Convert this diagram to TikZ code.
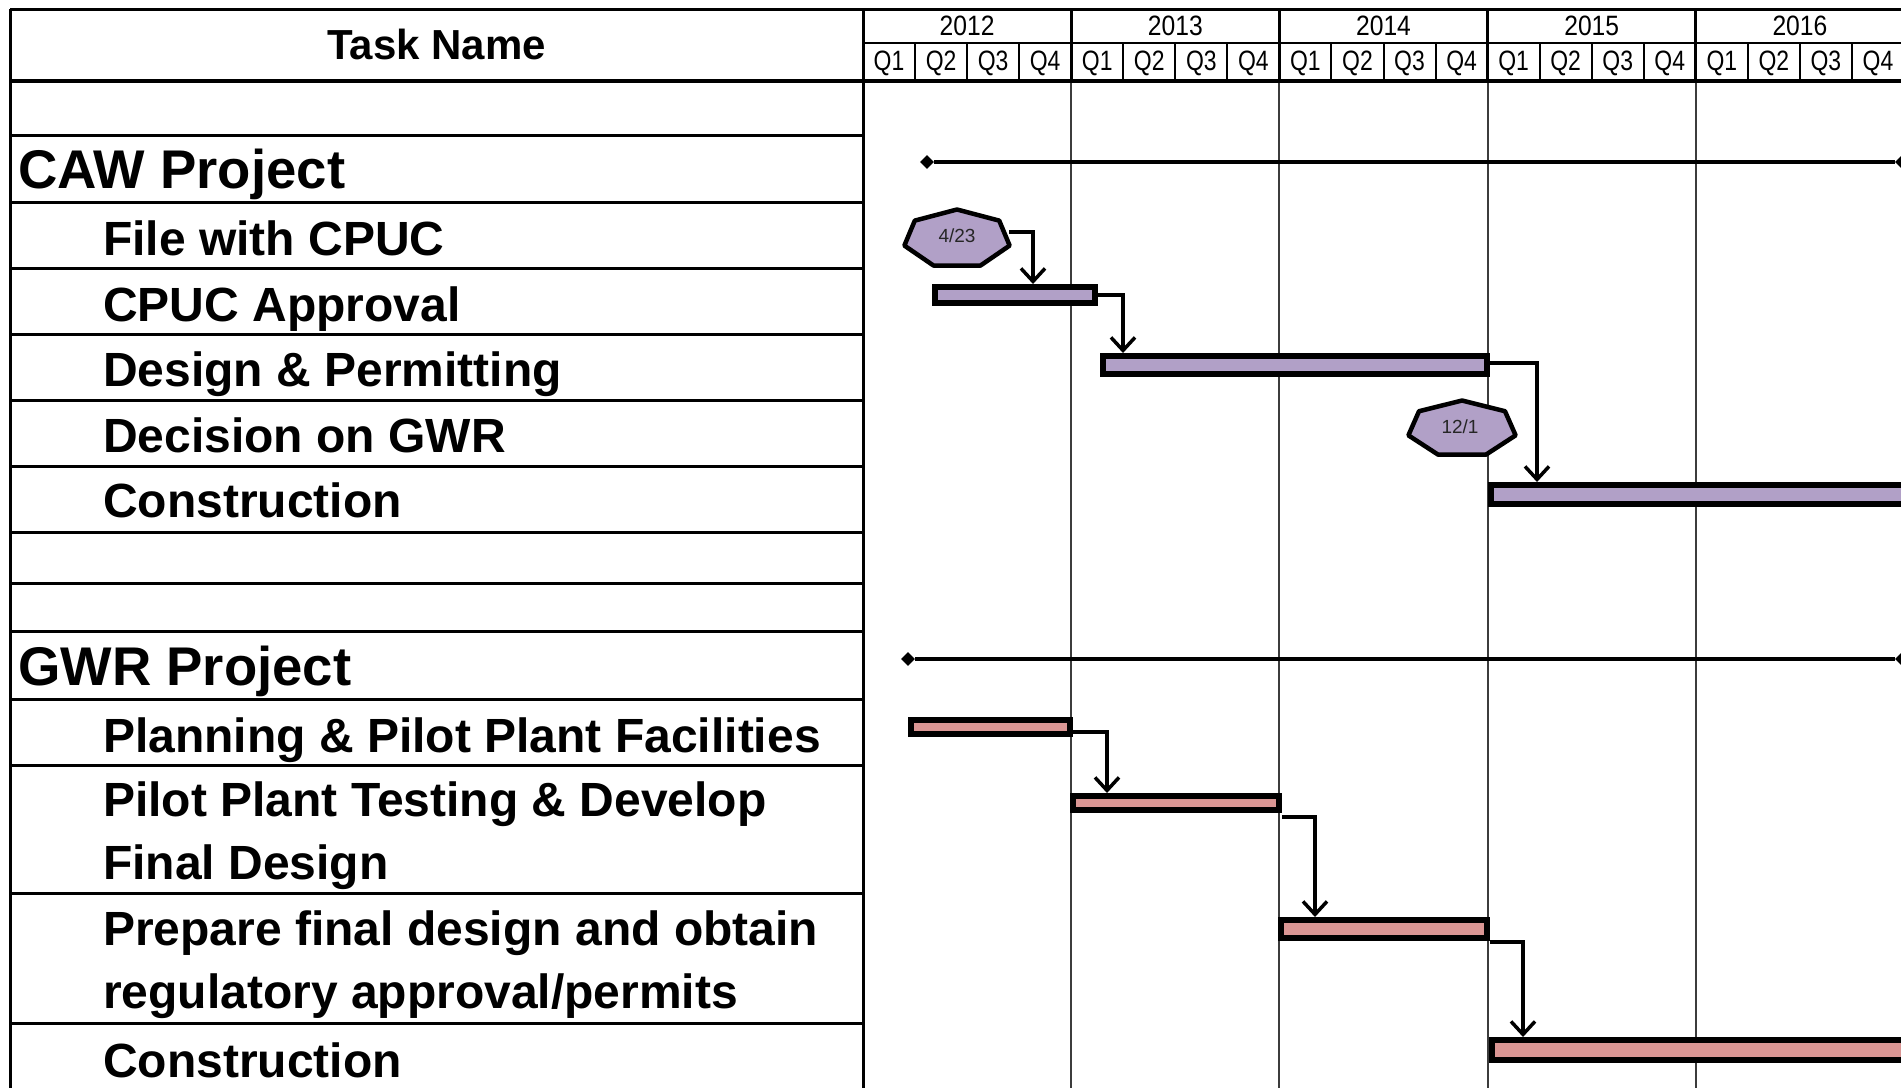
\documentclass[tikz,border=0pt]{standalone}
\usepackage{fontspec}
\setmainfont{Liberation Sans}
\usetikzlibrary{arrows.meta,calc,shapes.geometric}
\definecolor{lav}{HTML}{B1A0C7}
\definecolor{rose}{HTML}{DA9694}
\definecolor{gridc}{HTML}{3C3C3C}
\begin{document}
\begin{tikzpicture}[x=1pt,y=-1pt,
  tasktxt/.style={anchor=base west, inner sep=0pt, align=left, font=\bfseries\fontsize{48}{63}\selectfont},
  projtxt/.style={anchor=base west, inner sep=0pt, font=\bfseries\fontsize{54.5}{64}\selectfont},
  yearlbl/.style={inner sep=0pt, font=\fontsize{28}{30}\selectfont},
  qlbl/.style={inner sep=0pt, font=\fontsize{28}{30}\selectfont},
  bar/.style={draw=black, line width=6pt, inner sep=0pt, rectangle},
  hept/.style={draw=black, line width=4.5pt, fill=lav, line join=round},
  mstxt/.style={inner sep=0pt, text=black!85, font=\fontsize{19}{22}\selectfont},
  dep/.style={line width=3.5pt, line join=miter, -{Straight Barb[length=13pt,width=24pt,line width=3.5pt]}},
  summ/.style={line width=3.5pt},
  diam/.style={diamond, fill=black, inner sep=0pt, minimum size=14pt},
  frame/.style={line width=3pt, black},
  rowline/.style={line width=3pt, black},
  gridline/.style={line width=2pt, gridc}
]
\useasboundingbox (0,0) rectangle (1901,1088);
\clip (0,0) rectangle (1901,1088);
\fill[white] (0,0) rectangle (1901,1088);

% chart grid lines (year boundaries)
\foreach \i in {1,...,4} \draw[gridline] ({863+208.2*\i},81) -- ({863+208.2*\i},1088);

% header frame
\draw[frame] (10,9) -- (1905,9);
\draw[frame] (10,9) -- (10,1088);
\draw[frame] (863,9) -- (863,1088);
\draw[line width=2.5pt] (863,43) -- (1905,43);
\draw[line width=4pt] (10,81) -- (1905,81);
\foreach \i in {1,...,4} \draw[line width=3pt] ({863+208.2*\i},9) -- ({863+208.2*\i},81);
\foreach \i in {0,...,4} \foreach \q in {1,2,3}
  \draw[line width=2pt] ({863+208.2*\i+52.05*\q},43) -- ({863+208.2*\i+52.05*\q},81);

% header labels
\node[inner sep=0pt, font=\bfseries\fontsize{42}{50}\selectfont] (th) at (436.5,44) {Task Name};
\foreach \yr [count=\i from 0] in {2012,2013,2014,2015,2016}
  \node[yearlbl] (y\yr) at ({863+208.2*(\i+0.5)},26) {\scalebox{0.88}[1]{\yr}};
\foreach \i in {0,...,4} \foreach \q in {1,...,4}
  \node[qlbl] (q\i\q) at ({863+208.2*\i+52.05*(\q-0.5)},63) {\scalebox{0.82}[1]{Q\q}};

% left column row lines
\foreach \y in {135,202,268,334,400,466,532,583,631,699,765,893,1023}
  \draw[rowline] (10,\y) -- (863,\y);

% task names
\node[projtxt] (caw) at (18,188) {CAW Project};
\node[tasktxt] (t1) at (103,255) {File with CPUC};
\node[tasktxt] (t2) at (103,321) {CPUC Approval};
\node[tasktxt] (t3) at (103,386) {Design \& Permitting};
\node[tasktxt] (t4) at (103,452) {Decision on GWR};
\node[tasktxt] (t5) at (103,517) {Construction};
\node[projtxt] (gwr) at (18,685) {GWR Project};
\node[tasktxt] (g1) at (103,752) {Planning \& Pilot Plant Facilities};
\node[tasktxt] (g2) at (103,879) {Pilot Plant Testing \& Develop\\Final Design};
\node[tasktxt] (g3) at (103,1008) {Prepare final design and obtain\\regulatory approval/permits};
\node[tasktxt] (g4) at (103,1077) {Construction};

% summary lines
\node[diam] (cs) at (927,162) {};
\node[diam] (ce) at (1902,162) {};
\draw[summ] (cs) -- (ce);
\node[diam] (gs) at (908,659) {};
\node[diam] (ge) at (1902,659) {};
\draw[summ] (gs) -- (ge);

% milestones
\begin{scope}[shift={(957,239)}]
  \draw[hept] (-90:54 and 29.5) -- (-38.57:54 and 29.5) -- (12.86:54 and 29.5) -- (64.29:54 and 29.5)
    -- (115.71:54 and 29.5) -- (167.14:54 and 29.5) -- (218.57:54 and 29.5) -- cycle;
\end{scope}
\node[mstxt] (m1) at (957,236) {4/23};
\coordinate (m1e) at (1009,232);
\begin{scope}[shift={(1462,429)}]
  \draw[hept] (-90:55 and 28.5) -- (-38.57:55 and 28.5) -- (12.86:55 and 28.5) -- (64.29:55 and 28.5)
    -- (115.71:55 and 28.5) -- (167.14:55 and 28.5) -- (218.57:55 and 28.5) -- cycle;
\end{scope}
\node[mstxt] (m2) at (1460,427) {12/1};

% CAW bars
\node[bar, fill=lav, minimum width=160pt, minimum height=16pt] (b1) at (1015,295) {};
\node[bar, fill=lav, minimum width=384pt, minimum height=18pt] (b2) at (1295,365) {};
\node[bar, fill=lav, minimum width=426pt, minimum height=19pt] (b3) at (1704,494.5) {};

% GWR bars
\node[bar, fill=rose, minimum width=159pt, minimum height=14pt] (r1) at (990.5,727) {};
\node[bar, fill=rose, minimum width=206pt, minimum height=14pt] (r2) at (1176,803) {};
\node[bar, fill=rose, minimum width=206pt, minimum height=18pt] (r3) at (1384,929) {};
\node[bar, fill=rose, minimum width=425pt, minimum height=20pt] (r4) at (1704.5,1050) {};

% dependencies
\draw[dep] (m1e) -- ++(24,0) coordinate (k1) -- (k1 |- b1.north);
\draw[dep] (b1.east) -- ++(25,0) coordinate (k2) -- (k2 |- b2.north);
\draw[dep] ([yshift=2pt]b2.east) -- ++(47,0) coordinate (k3) -- (k3 |- b3.north);
\draw[dep] ([yshift=-5pt]r1.east) -- ++(34,0) coordinate (k4) -- (k4 |- r2.north);
\draw[dep] ([yshift=-14pt]r2.east) -- ++(33,0) coordinate (k5) -- (k5 |- r3.north);
\draw[dep] ([yshift=-13pt]r3.east) -- ++(33,0) coordinate (k6) -- (k6 |- r4.north);
\end{tikzpicture}
\end{document}
